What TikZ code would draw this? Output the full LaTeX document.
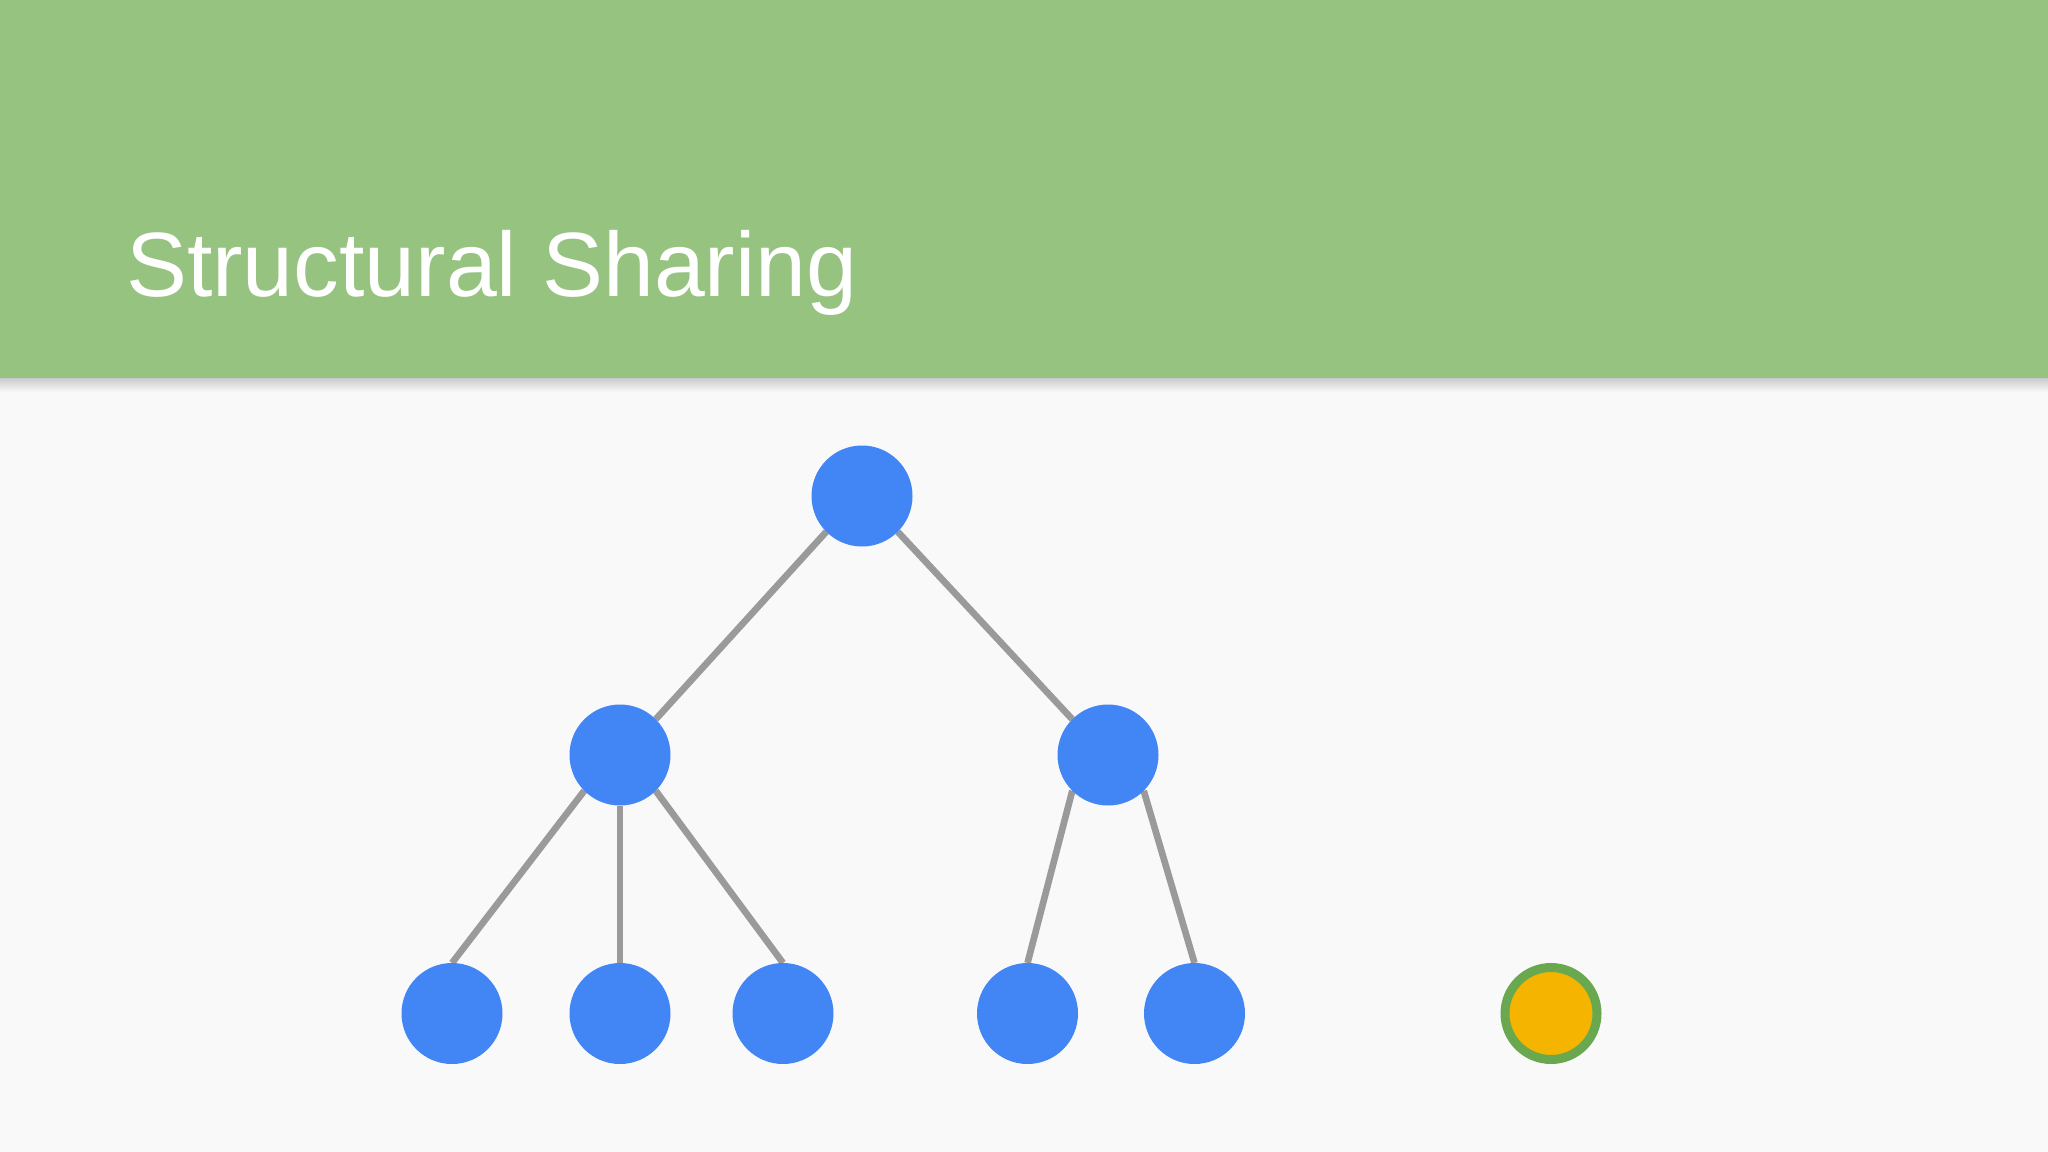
\documentclass[tikz,border=0pt]{standalone}
\usepackage{fontspec}
\setmainfont{Liberation Sans}
\usetikzlibrary{backgrounds}

\definecolor{slidebg}{HTML}{F9F9FA}
\definecolor{headgreen}{HTML}{97C381}
\definecolor{nodeblue}{HTML}{4285F4}
\definecolor{edgegray}{HTML}{9A9A9A}
\definecolor{leafyellow}{HTML}{F4B400}
\definecolor{ringgreen}{HTML}{6AA84F}

\tikzset{
  treenode/.style={circle, fill=nodeblue, minimum size=75.75pt, inner sep=0pt, outer sep=0pt},
  newnode/.style={circle, fill=leafyellow, draw=ringgreen, line width=6.75pt, minimum size=69pt, inner sep=0pt, outer sep=0pt},
  treeedge/.style={draw=edgegray, line width=5pt},
}

\begin{document}
\begin{tikzpicture}[x=0.75pt,y=0.75pt,yscale=-1,xscale=1]
        \useasboundingbox (0,0) rectangle (2048,1152);

        % Title Node
        \node (title) [anchor=base west, inner sep=0pt, text=white, font=\fontsize{68.5}{80}\selectfont] at (126,296.5) {Structural Sharing};

        %Shape: Circle (tree)
        \node (root) [treenode] at (862,496) {};
        \node (lchild) [treenode] at (620,755) {};
        \node (rchild) [treenode] at (1108,755) {};
        \node (leafa) [treenode] at (452,1013.5) {};
        \node (leafb) [treenode] at (620,1013.5) {};
        \node (leafc) [treenode] at (783,1013.5) {};
        \node (leafd) [treenode] at (1027.5,1013.5) {};
        \node (leafe) [treenode] at (1194.5,1013.5) {};
        %Shape: Circle (new value)
        \node (newleaf) [newnode] at (1551,1013.5) {};

        \begin{scope}[on background layer]
        %Shape: Rectangle (slide and header)
        \fill [slidebg] (0,0) rectangle (2048,1152);
        \shade [top color=black!22, bottom color=slidebg] (0,377) rectangle (2048,392);
        \fill [headgreen] (0,0) rectangle (2048,378);

        %Straight Lines
        \draw [treeedge] (root.south west) -- (lchild.north east);
        \draw [treeedge] (root.south east) -- (rchild.north west);
        \draw [treeedge] (lchild.south west) -- (leafa.north);
        \draw [treeedge] (lchild.south) -- (leafb.north);
        \draw [treeedge] (lchild.south east) -- (leafc.north);
        \draw [treeedge] (rchild.south west) -- (leafd.north);
        \draw [treeedge] (rchild.south east) -- (leafe.north);
        \end{scope}

\end{tikzpicture}
\end{document}
